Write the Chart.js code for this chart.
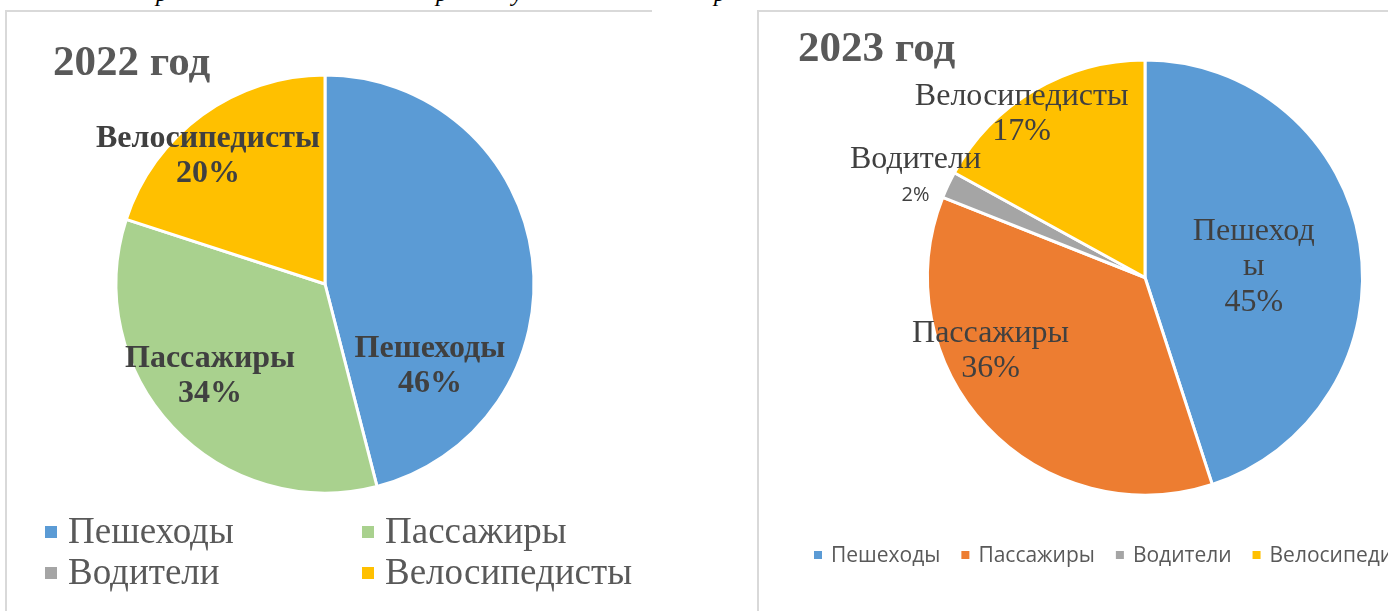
<!DOCTYPE html>
<html>
<head>
<meta charset="utf-8">
<script src="https://cdn.jsdelivr.net/npm/chart.js@4.4.0/dist/chart.umd.min.js"></script>
<style>
  body { margin: 0; width: 1388px; height: 611px; overflow: hidden; background: #fff; position: relative; }
  .panel { position: absolute; border-top: 2px solid #d9d9d9; border-left: 2px solid #d9d9d9; }
  #p1 { left: 5px; top: 10px; width: 645px; height: 620px; }
  #p2 { left: 757px; top: 10px; width: 660px; height: 620px; }
  canvas { position: absolute; }
  .cap { position: absolute; top: -19px; font: italic 24px 'Liberation Serif'; line-height: 24px; color: #000; }
</style>
</head>
<body>
<span class="cap" style="left:156px">р</span>
<span class="cap" style="left:436px">р</span>
<span class="cap" style="left:512px">у</span>
<span class="cap" style="left:714px">р</span>
<div class="panel" id="p1"></div>
<div class="panel" id="p2"></div>
<canvas id="c2022" width="646" height="600" style="left:6px;top:11px"></canvas>
<canvas id="c2023" width="630" height="600" style="left:758px;top:11px"></canvas>
<script>
// данные
const categories = ['Пешеходы', 'Пассажиры', 'Водители', 'Велосипедисты'];
const values2022 = [46, 34, 0, 20];
const values2023 = [45, 36, 2, 17];
const colors2022 = ['#5B9BD5', '#A9D18E', '#A5A5A5', '#FFC000'];
const colors2023 = ['#5B9BD5', '#ED7D31', '#A5A5A5', '#FFC000'];

// text drawn on top of each pie: title, slice labels, legend
function panelText(cfg) {
    return {
        id: 'panelText',
        afterDraw(chart) {
            const ctx = chart.ctx;
            const values = chart.data.datasets[0].data;
            const colors = chart.data.datasets[0].backgroundColor;
            ctx.save();
            // title
            ctx.fillStyle = '#595959';
            ctx.font = cfg.titleFont;
            ctx.textAlign = 'left';
            ctx.textBaseline = 'alphabetic';
            ctx.fillText(cfg.title, cfg.titleX, cfg.titleY);

            // slice labels
            const arcs = chart.getDatasetMeta(0).data;
            arcs.forEach((arc, i) => {
                const pos = cfg.labelPos[i];
                if (!pos) return;
                const cx = arc.x + pos[0] * arc.outerRadius;
                const cy = arc.y + pos[1] * arc.outerRadius;
                const lines = (cfg.wrap[i] || [chart.data.labels[i]]).map(t => [t, cfg.labelFont]);
                lines.push([values[i] + '%', (cfg.valueFont && cfg.valueFont[i]) || cfg.labelFont]);
                ctx.fillStyle = '#404040';
                ctx.textAlign = 'center';
                ctx.textBaseline = 'middle';
                let y = cy - (lines.length - 1) * cfg.lineH / 2;
                lines.forEach(l => {
                    ctx.font = l[1];
                    ctx.fillText(l[0], cx, y);
                    y += cfg.lineH;
                });
            });

            // legend
            const lg = cfg.legend;
            ctx.font = lg.font;
            ctx.textAlign = 'left';
            ctx.textBaseline = 'middle';
            let x = lg.x;
            chart.data.labels.forEach((name, i) => {
                let bx, by;
                if (lg.cols) {
                    bx = lg.x + (i % lg.cols) * lg.colW;
                    by = lg.y + Math.floor(i / lg.cols) * lg.rowH;
                } else {
                    bx = x;
                    by = lg.y;
                }
                ctx.fillStyle = colors[i];
                ctx.fillRect(bx, by - lg.box / 2, lg.box, lg.box);
                ctx.fillStyle = '#595959';
                ctx.fillText(name, bx + lg.box + lg.gap, by + 1);
                x = bx + lg.box + lg.gap + ctx.measureText(name).width + lg.space;
            });
            ctx.restore();
        }
    };
}

function makePie(id, values, colors, padding, cfg) {
    return new Chart(document.getElementById(id), {
        type: 'pie',
        data: {
            labels: categories,
            datasets: [{
                data: values,
                backgroundColor: colors,
                borderColor: '#ffffff',
                borderWidth: 3
            }]
        },
        options: {
            responsive: false,
            animation: false,
            layout: { padding: padding },
            plugins: { legend: { display: false }, tooltip: { enabled: false } }
        },
        plugins: [panelText(cfg)]
    });
}

makePie('c2022', values2022, colors2022,
    { left: 108.5, top: 62.5, right: 116.5, bottom: 116.5 },
    {
        title: '2022 год', titleX: 47, titleY: 64,
        titleFont: 'bold 43px "Liberation Serif"',
        labelFont: 'bold 32px "Liberation Serif"',
        lineH: 35,
        wrap: {},
        labelPos: [[0.502, 0.392], [-0.55, 0.44], null, [-0.56, -0.612]],
        legend: { font: '37px "Liberation Serif"', x: 39, y: 521, cols: 2, colW: 317, rowH: 41, box: 12, gap: 11 }
    });

makePie('c2023', values2023, colors2023,
    { left: 168, top: 47.5, right: 24, bottom: 114.5 },
    {
        title: '2023 год', titleX: 40, titleY: 50,
        titleFont: 'bold 43px "Liberation Serif"',
        labelFont: '32px "Liberation Serif"',
        valueFont: { 2: '20px "Open Sans"' },
        lineH: 35.5,
        wrap: { 0: ['Пешеход', 'ы'] },
        labelPos: [[0.50, -0.05], [-0.71, 0.338], [-1.055, -0.46], [-0.567, -0.752]],
        legend: { font: '21px "Open Sans"', x: 56, y: 544, box: 8, gap: 9, space: 21 }
    });
</script>
</body>
</html>
